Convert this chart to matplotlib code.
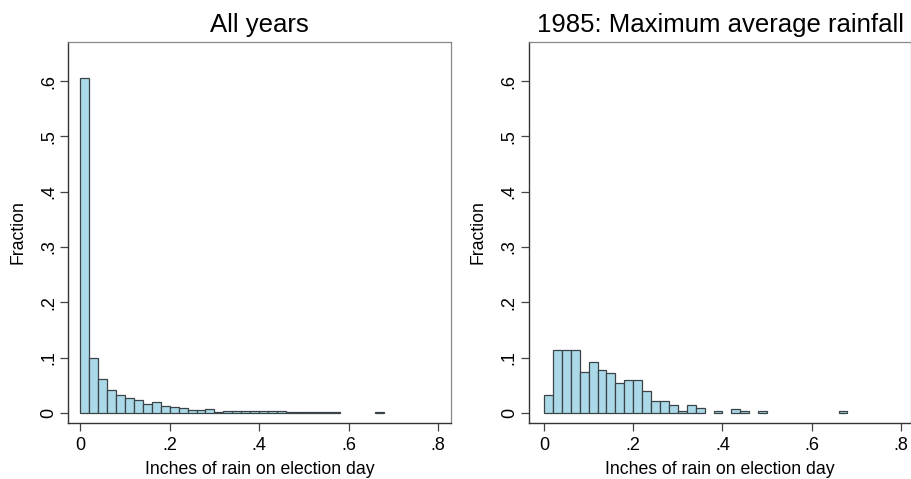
import matplotlib
matplotlib.use("Agg")
import matplotlib.pyplot as plt
import numpy as np

plt.rcParams['font.family'] = ['Liberation Sans', 'DejaVu Sans']

# bins of 0.02 inches, starting at 0
bin_width = 0.02

# Fraction per bin, all years
all_years = [0.605, 0.100, 0.062, 0.042, 0.032, 0.028, 0.023, 0.017, 0.020, 0.013,
             0.0115, 0.0095, 0.006, 0.006, 0.008, 0.002, 0.004, 0.004, 0.004, 0.004,
             0.003, 0.003, 0.003, 0.001, 0.001, 0.001, 0.001, 0.001, 0.001, 0.0,
             0.0, 0.0, 0.0, 0.001]

# Fraction per bin, 1985
year_1985 = [0.032, 0.1135, 0.1135, 0.1135, 0.0745, 0.093, 0.078, 0.072, 0.054, 0.060,
             0.060, 0.039, 0.021, 0.021, 0.014, 0.003, 0.014, 0.009, 0.0, 0.003,
             0.0, 0.007, 0.003, 0.0, 0.003, 0.0, 0.0, 0.0, 0.0, 0.0,
             0.0, 0.0, 0.0, 0.003]

titles = ["All years", "1985: Maximum average rainfall"]
xticks = [0, 0.2, 0.4, 0.6, 0.8]
xticklabels = ["0", ".2", ".4", ".6", ".8"]
yticks = [0, 0.1, 0.2, 0.3, 0.4, 0.5, 0.6]
yticklabels = ["0", ".1", ".2", ".3", ".4", ".5", ".6"]

fig = plt.figure(figsize=(9.12, 4.79), dpi=100)
ax1 = fig.add_axes([0.0749, 0.1169, 0.4196, 0.7954])
ax2 = fig.add_axes([0.5800, 0.1169, 0.4192, 0.7954])

panels = [(ax1, all_years, (-0.0268, 0.829)),
          (ax2, year_1985, (-0.0336, 0.823))]

for (ax, vals, xlim), title in zip(panels, titles):
    left = np.arange(len(vals)) * bin_width
    h = np.array(vals)
    keep = h > 0
    ax.bar(left[keep], h[keep], width=bin_width, align='edge',
           color='#abd9e7', edgecolor='#3a4448', linewidth=0.9)
    ax.set_xlim(*xlim)
    ax.set_ylim(-0.018, 0.6705)
    ax.set_xticks(xticks)
    ax.set_xticklabels(xticklabels, fontsize=13)
    ax.set_yticks(yticks)
    ax.set_yticklabels(yticklabels, fontsize=13, rotation=90, va='center')
    ax.tick_params(axis='x', length=6, width=0.9, color='#444444', pad=4)
    ax.tick_params(axis='y', length=6, width=0.9, color='#444444', pad=2)
    ax.set_xlabel("Inches of rain on election day", fontsize=12.7, labelpad=5)
    ax.set_ylabel("Fraction", fontsize=12.7, labelpad=10)
    ax.set_title(title, fontsize=18.5, pad=7)
    for side in ['left', 'bottom']:
        ax.spines[side].set_color('#333333')
        ax.spines[side].set_linewidth(1.0)
    for side in ['top', 'right']:
        ax.spines[side].set_color('#888888')
        ax.spines[side].set_linewidth(0.9)

fig.savefig("out.png", dpi=100)
